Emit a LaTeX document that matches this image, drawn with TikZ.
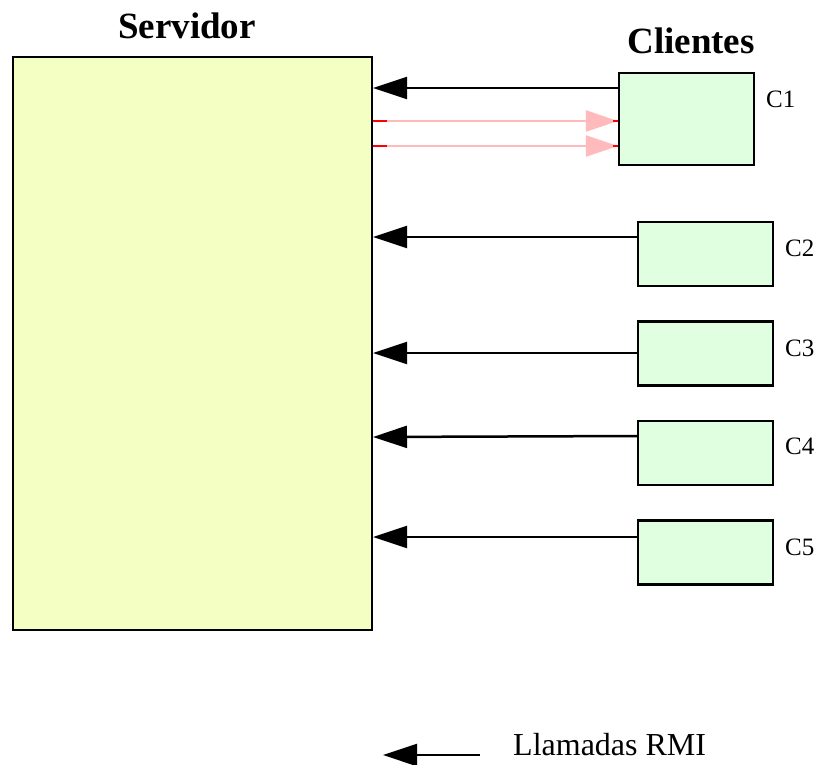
\documentclass[tikz,border=0pt]{standalone}
\usepackage{fontspec}
\setmainfont{Liberation Serif}
\usetikzlibrary{arrows.meta,calc}
\definecolor{srvfill}{RGB}{244,255,196}
\definecolor{clifill}{RGB}{224,255,224}
\definecolor{pinkarr}{RGB}{255,187,187}
\definecolor{redarr}{RGB}{255,0,0}
\tikzset{
  srvbox/.style={draw=black, line width=2.2pt, fill=srvfill, inner sep=0pt},
  clibox/.style={draw=black, line width=2.2pt, fill=clifill, inner sep=0pt, minimum width=135pt},
  rmi/.style={line width=2.5pt, draw=black, -{Triangle[length=34pt,width=22pt]}},
  ret/.style={line width=2.5pt, draw=pinkarr, -{Triangle[length=32pt,width=21pt,fill=pinkarr]}},
  redbit/.style={line width=2.5pt, draw=redarr},
  title/.style={font=\fontsize{37}{40}\selectfont\bfseries, inner sep=0pt},
  lbl/.style={font=\fontsize{25}{28}\selectfont, inner sep=0pt, anchor=west},
}
\begin{document}
\begin{tikzpicture}[x=1pt,y=-1pt]
\useasboundingbox (0,0) rectangle (822,764);
\node[srvbox, minimum width=359pt, minimum height=573pt] (server) at (192.5,343.5) {};
\node[title] (tserv) at (187,26) {Servidor};
\node[title] (tcli) at (691,41) {Clientes};

\node[clibox, minimum height=92pt] (C1) at (686.5,119) {};
\node[clibox, minimum height=64pt] (C2) at (705.5,254) {};
\node[clibox, minimum height=64pt] (C3) at (705.5,353.5) {};
\node[clibox, minimum height=64pt] (C4) at (705.5,453) {};
\node[clibox, minimum height=64pt] (C5) at (705.5,552.5) {};

\node[lbl] (l1) at (766,99) {C1};
\node[lbl] (l2) at (785,248) {C2};
\node[lbl] (l3) at (785,348) {C3};
\node[lbl] (l4) at (785,446) {C4};
\node[lbl] (l5) at (785,547) {C5};

\coordinate (a1) at (618,88);
\coordinate (a2) at (637,237);
\coordinate (a3) at (637,353);
\coordinate (a4) at (637,436);
\coordinate (a5) at (637,537);
\coordinate (s4) at (373,437);

\draw[rmi] (a1) -- (a1 -| server.east);
\draw[rmi] (a2) -- (a2 -| server.east);
\draw[rmi] (a3) -- (a3 -| server.east);
\draw[rmi] (a4) -- (s4);
\draw[rmi] (a5) -- (a5 -| server.east);

\coordinate (p1) at (373,121);
\coordinate (p2) at (373,146);
\draw[ret] (p1) -- (p1 -| C1.west);
\draw[ret] (p2) -- (p2 -| C1.west);
\draw[redbit] (p1) -- ++(14,0);
\draw[redbit] (p2) -- ++(14,0);
\draw[redbit] ($(p1 -| C1.west)+(-5,0)$) -- (p1 -| C1.west);
\draw[redbit] ($(p2 -| C1.west)+(-5,0)$) -- (p2 -| C1.west);

\coordinate (lg1) at (480,755);
\coordinate (lg2) at (383,755);
\draw[rmi] (lg1) -- (lg2);
\node[font=\fontsize{32}{34}\selectfont, inner sep=0pt, anchor=base west] (lgt) at (513,755) {Llamadas RMI};
\end{tikzpicture}
\end{document}
